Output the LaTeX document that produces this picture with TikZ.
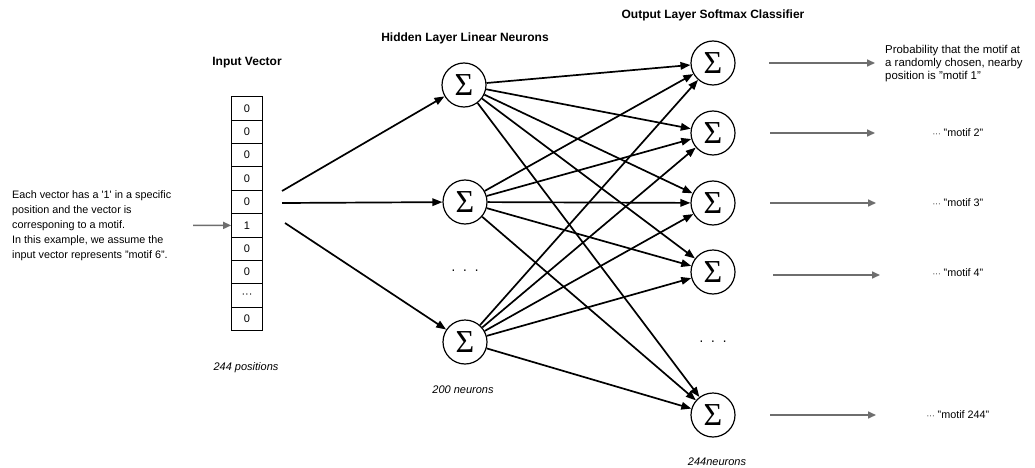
\documentclass[tikz,border=0pt]{standalone}
\usepackage{fontspec}
\setmainfont{Liberation Sans}
\newfontfamily\sigmafont{Liberation Serif}
\usetikzlibrary{arrows.meta}

\definecolor{arrowgray}{HTML}{6E6E6E}

\tikzset{
  neuron/.style={circle, draw, line width=1.2pt, minimum size=44pt, inner sep=0pt,
                 font=\sigmafont\fontsize{32}{32}\selectfont},
  cell/.style={draw, line width=1.1pt, minimum width=30.6pt, minimum height=23.4pt,
               inner sep=0pt, font=\fontsize{11}{11}\selectfont},
  link/.style={line width=1.7pt, -{Triangle[length=10pt,width=7.5pt]}},
  outarrow/.style={draw=arrowgray, line width=1.6pt, -{Triangle[length=8pt,width=7pt]}},
  title/.style={font=\fontsize{12}{14}\selectfont\bfseries},
  note/.style={font=\fontsize{11}{13}\selectfont\itshape},
  desc/.style={font=\fontsize{10.8}{15}\selectfont, align=left, inner sep=0pt},
  prob/.style={font=\fontsize{11.4}{13}\selectfont, align=left, inner sep=0pt},
  label/.style={font=\fontsize{10.8}{13}\selectfont, inner sep=0pt},
  dots/.style={font=\fontsize{14}{14}\selectfont, inner sep=0pt},
}
\newcommand\smalldots{{\fontsize{8}{8}\selectfont ···}}

\begin{document}
\begin{tikzpicture}[x=1pt, y=-1pt]
  \useasboundingbox (0,0) rectangle (1035,468);

  % titles
  \node[title] (tin)  at (247,62.7) {Input Vector};
  \node[title] (thid) at (465,38)   {Hidden Layer Linear Neurons};
  \node[title] (tout) at (713,15)   {Output Layer Softmax Classifier};

  % explanation on the left
  \node[desc, anchor=west] (expl) at (12,226)
    {Each vector has a \textquotesingle1\textquotesingle\ in a specific\\
     position and the vector is\\
     corresponing to a motif.\\
     In this example, we assume the\\
     input vector represents "motif 6".};

  % one-hot input vector
  \foreach \v [count=\i] in {0,0,0,0,0,1,0,0,{···},0} {
    \node[cell] (c\i) at (247,{96.7+23.4*(\i-0.5)}) {\v};
  }
  \node[note] (npos) at (246,368) {244 positions};

  \coordinate (src) at (193,225.4);
  \draw[outarrow] (src) -- (c6.west);

  % hidden layer
  \node[neuron] (H1) at (464,85)  {Σ};
  \node[neuron] (H2) at (465,202) {Σ};
  \node[neuron] (H3) at (465,342) {Σ};
  \node[dots] (hd) at (465,272) {·\kern7pt·\kern7pt·};
  \node[note] (nhid) at (463,390) {200 neurons};

  % inputs feeding the hidden layer
  \coordinate (i1) at (282,191);
  \coordinate (i2) at (282,203);
  \coordinate (i3) at (285,223);
  \draw[link] (i1) -- (H1);
  \draw[link] (i2) -- (H2);
  \draw[link] (i3) -- (H3);

  % output layer
  \node[neuron] (O1) at (713,63)  {Σ};
  \node[neuron] (O2) at (713,133) {Σ};
  \node[neuron] (O3) at (713,203) {Σ};
  \node[neuron] (O4) at (713,272) {Σ};
  \node[neuron] (O5) at (713,415) {Σ};
  \node[dots] (od) at (713,343) {·\kern7pt·\kern7pt·};
  \node[note] (nout) at (717,462) {244neurons};

  % full connection hidden -> output
  \foreach \h in {H1,H2,H3}
    \foreach \o in {O1,O2,O3,O4,O5}
      \draw[link] (\h) -- (\o);

  % softmax outputs
  \coordinate (a1) at (769,63);   \coordinate (b1) at (875,63);
  \coordinate (a2) at (770,133);  \coordinate (b2) at (875,133);
  \coordinate (a3) at (770,203);  \coordinate (b3) at (876,203);
  \coordinate (a4) at (773,275);  \coordinate (b4) at (880,275);
  \coordinate (a5) at (770,415);  \coordinate (b5) at (876,415);
  \foreach \k in {1,...,5}
    \draw[outarrow] (a\k) -- (b\k);

  \node[prob, anchor=west] (p1) at (885,64)
    {Probability that the motif at\\
     a randomly chosen, nearby\\
     position is "motif 1"};
  \node[label] (p2) at (958,133) {\smalldots\ "motif 2"};
  \node[label] (p3) at (958,203) {\smalldots\ "motif 3"};
  \node[label] (p4) at (958,273) {\smalldots\ "motif 4"};
  \node[label] (p5) at (958,415) {\smalldots\ "motif 244"};
\end{tikzpicture}
\end{document}
